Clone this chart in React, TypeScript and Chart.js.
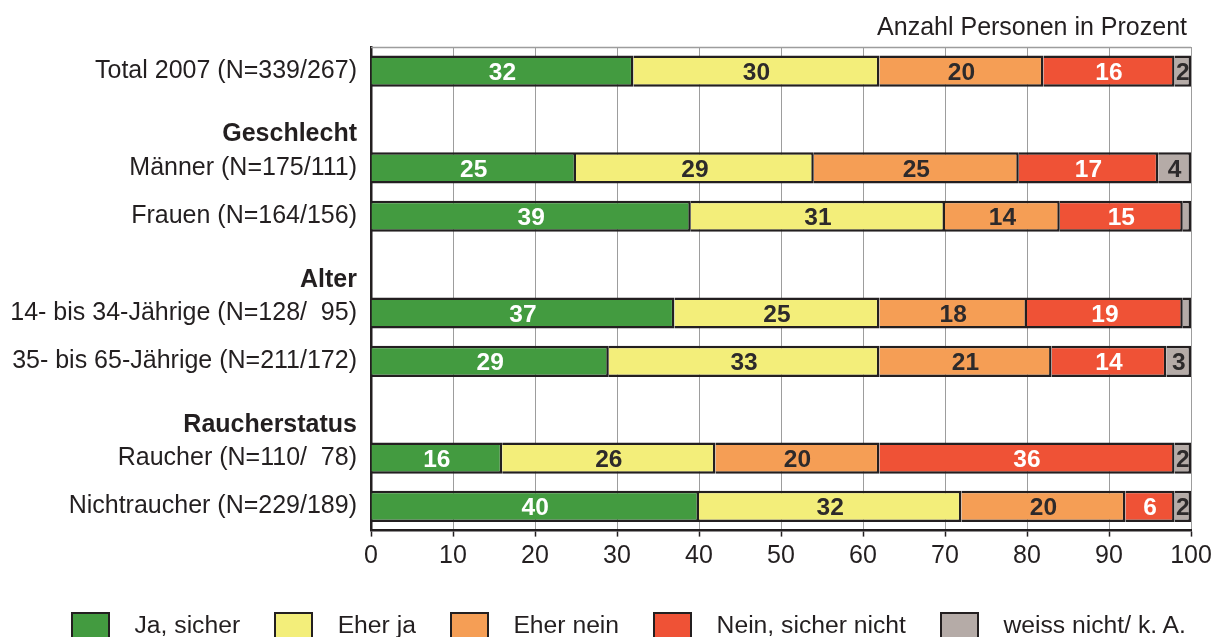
import React, { useEffect, useRef } from 'react';
import { Chart, registerables } from 'chart.js';

Chart.register(...registerables);

// Row labels (header rows are drawn bold, without bars)
const categories = [
  'Total 2007 (N=339/267)',
  'Geschlecht',
  'Männer (N=175/111)',
  'Frauen (N=164/156)',
  'Alter',
  '14- bis 34-Jährige (N=128/  95)',
  '35- bis 65-Jährige (N=211/172)',
  'Raucherstatus',
  'Raucher (N=110/  78)',
  'Nichtraucher (N=229/189)',
];
const headerRows = [1, 4, 7];

const seriesNames = ['Ja, sicher', 'Eher ja', 'Eher nein', 'Nein, sicher nicht', 'weiss nicht/ k. A.'];

// Percentages per row
const jaSicher = [32, null, 25, 39, null, 37, 29, null, 16, 40];
const eherJa = [30, null, 29, 31, null, 25, 33, null, 26, 32];
const eherNein = [20, null, 25, 14, null, 18, 21, null, 20, 20];
const neinSicherNicht = [16, null, 17, 15, null, 19, 14, null, 36, 6];
const weissNicht = [2, null, 4, 1, null, 1, 3, null, 2, 2];

const seriesValues = [jaSicher, eherJa, eherNein, neinSicherNicht, weissNicht];
const seriesColors = ['#439b40', '#f3ee7a', '#f59e55', '#ef5236', '#b5aba7'];
const valueTextColors = ['#ffffff', '#2d2a2b', '#2d2a2b', '#ffffff', '#2d2a2b'];

const axisTitle = 'Anzahl Personen in Prozent';

const FONT = "'Liberation Sans', Arial, Helvetica, sans-serif";
const INK = '#231f20';
const GRID = '#9d9d9d';
const FS = 25;

// Header rows get an empty first line so the bold text sits below the row center
const yLabels = categories.map((c, i) => (headerRows.includes(i) ? ['', c] : c));

const barValueLabels = {
  id: 'barValueLabels',
  afterDatasetsDraw(chart: any) {
    const { ctx } = chart;
    ctx.save();
    ctx.font = `bold 24.5px ${FONT}`;
    ctx.textAlign = 'center';
    ctx.textBaseline = 'middle';
    chart.data.datasets.forEach((ds: any, di: number) => {
      const meta = chart.getDatasetMeta(di);
      meta.data.forEach((bar: any, i: number) => {
        const v = ds.data[i];
        if (v == null || v < 2) return;
        const { x, y, base } = bar.getProps(['x', 'y', 'base'], true);
        ctx.fillStyle = valueTextColors[di];
        ctx.fillText(String(v), (x + base) / 2, y + 2);
      });
    });
    ctx.restore();
  },
};

const topFrame = {
  id: 'topFrame',
  beforeDatasetsDraw(chart: any) {
    const { ctx, chartArea } = chart;
    ctx.save();
    ctx.strokeStyle = GRID;
    ctx.lineWidth = 1.5;
    ctx.beginPath();
    ctx.moveTo(chartArea.left, chartArea.top + 0.5);
    ctx.lineTo(chartArea.right, chartArea.top + 0.5);
    ctx.stroke();
    ctx.restore();
  },
};

export default function App() {
  const canvasRef = useRef<HTMLCanvasElement>(null);

  useEffect(() => {
    const chart = new Chart(canvasRef.current as HTMLCanvasElement, {
      type: 'bar',
      data: {
        labels: yLabels as any,
        datasets: seriesNames.map((name, i) => ({
          label: name,
          data: seriesValues[i] as any,
          backgroundColor: seriesColors[i],
          borderColor: INK,
          borderWidth: 2.5,
          borderSkipped: 'start',
          categoryPercentage: 1,
          barPercentage: 0.645,
        })),
      },
      options: {
        indexAxis: 'y',
        responsive: false,
        animation: false,
        layout: { padding: { top: 47, right: 22, left: 0, bottom: 0 } },
        plugins: {
          legend: { display: false },
          title: { display: false },
          tooltip: { enabled: false },
        },
        scales: {
          x: {
            stacked: true,
            min: 0,
            max: 100,
            ticks: {
              stepSize: 10,
              color: INK,
              padding: 5,
              font: { family: FONT, size: FS },
            },
            grid: {
              color: GRID,
              lineWidth: 1,
              tickColor: INK,
              tickLength: 6,
              tickWidth: 1.5,
            },
            border: { color: INK, width: 2.5 },
            afterFit(scale: any) {
              scale.height = 106.4;
              scale.paddingRight = 0;
            },
          },
          y: {
            stacked: true,
            ticks: {
              autoSkip: false,
              color: INK,
              padding: 14,
              font: (ctx: any) => ({
                family: FONT,
                size: FS,
                weight: headerRows.includes(ctx.index) ? 'bold' : 'normal',
              }),
            },
            grid: { display: false, drawTicks: false },
            border: { color: INK, width: 2.5 },
            afterFit(scale: any) {
              scale.width = 371;
            },
          },
        },
      },
      plugins: [topFrame, barValueLabels],
    } as any);
    return () => chart.destroy();
  }, []);

  return (
    <div
      style={{
        position: 'fixed',
        left: 0,
        top: 0,
        width: 1213,
        height: 637,
        background: '#ffffff',
        overflow: 'hidden',
        fontFamily: FONT,
        color: INK,
      }}
    >
      <canvas
        ref={canvasRef}
        width={1213}
        height={637}
        style={{ position: 'absolute', left: 0, top: 0, width: 1213, height: 637 }}
      />
      <div
        style={{
          position: 'absolute',
          right: 26,
          top: 14,
          fontSize: FS,
          lineHeight: '25px',
          whiteSpace: 'nowrap',
        }}
      >
        {axisTitle}
      </div>
      <div
        style={{
          position: 'absolute',
          left: 71,
          top: 612,
          display: 'flex',
          alignItems: 'flex-start',
          fontSize: 24.7,
          lineHeight: '25px',
          whiteSpace: 'nowrap',
        }}
      >
        {seriesNames.map((name, i) => (
          <div key={name} style={{ display: 'flex', alignItems: 'flex-start', marginRight: 34 }}>
            <span
              style={{
                display: 'inline-block',
                width: 39,
                height: 30,
                boxSizing: 'border-box',
                border: `2.5px solid ${INK}`,
                background: seriesColors[i],
                marginRight: 24.5,
              }}
            />
            <span>{name}</span>
          </div>
        ))}
      </div>
    </div>
  );
}
